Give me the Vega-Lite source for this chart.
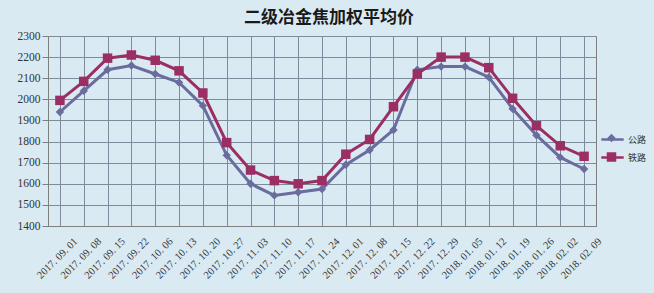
{
  "$schema": "https://vega.github.io/schema/vega-lite/v6.json",
  "width": 548,
  "height": 190,
  "autosize": {"type": "none"},
  "padding": {"left": 48, "top": 36, "right": 58, "bottom": 67},
  "background": "#d9eaf3",
  "title": {
    "text": "二级冶金焦加权平均价",
    "font": "Noto Sans CJK SC",
    "fontSize": 17,
    "fontWeight": "bold",
    "color": "#1a1a1a",
    "anchor": "middle",
    "offset": 3,
    "dx": 7
  },
  "data": {
    "values": [
      {"date": "2017. 09. 01", "type": "公路", "price": 1940},
      {"date": "2017. 09. 08", "type": "公路", "price": 2040},
      {"date": "2017. 09. 15", "type": "公路", "price": 2140},
      {"date": "2017. 09. 22", "type": "公路", "price": 2160},
      {"date": "2017. 10. 06", "type": "公路", "price": 2120},
      {"date": "2017. 10. 13", "type": "公路", "price": 2080},
      {"date": "2017. 10. 20", "type": "公路", "price": 1970},
      {"date": "2017. 10. 27", "type": "公路", "price": 1735},
      {"date": "2017. 11. 03", "type": "公路", "price": 1600},
      {"date": "2017. 11. 10", "type": "公路", "price": 1545},
      {"date": "2017. 11. 17", "type": "公路", "price": 1560},
      {"date": "2017. 11. 24", "type": "公路", "price": 1575},
      {"date": "2017. 12. 01", "type": "公路", "price": 1690},
      {"date": "2017. 12. 08", "type": "公路", "price": 1760},
      {"date": "2017. 12. 15", "type": "公路", "price": 1855},
      {"date": "2017. 12. 22", "type": "公路", "price": 2140},
      {"date": "2017. 12. 29", "type": "公路", "price": 2155},
      {"date": "2018. 01. 05", "type": "公路", "price": 2155},
      {"date": "2018. 01. 12", "type": "公路", "price": 2105},
      {"date": "2018. 01. 19", "type": "公路", "price": 1955},
      {"date": "2018. 01. 26", "type": "公路", "price": 1830},
      {"date": "2018. 02. 02", "type": "公路", "price": 1725},
      {"date": "2018. 02. 09", "type": "公路", "price": 1670},
      {"date": "2017. 09. 01", "type": "铁路", "price": 1995},
      {"date": "2017. 09. 08", "type": "铁路", "price": 2085},
      {"date": "2017. 09. 15", "type": "铁路", "price": 2195},
      {"date": "2017. 09. 22", "type": "铁路", "price": 2210},
      {"date": "2017. 10. 06", "type": "铁路", "price": 2185},
      {"date": "2017. 10. 13", "type": "铁路", "price": 2135},
      {"date": "2017. 10. 20", "type": "铁路", "price": 2030},
      {"date": "2017. 10. 27", "type": "铁路", "price": 1795},
      {"date": "2017. 11. 03", "type": "铁路", "price": 1665},
      {"date": "2017. 11. 10", "type": "铁路", "price": 1615},
      {"date": "2017. 11. 17", "type": "铁路", "price": 1600},
      {"date": "2017. 11. 24", "type": "铁路", "price": 1615},
      {"date": "2017. 12. 01", "type": "铁路", "price": 1740},
      {"date": "2017. 12. 08", "type": "铁路", "price": 1810},
      {"date": "2017. 12. 15", "type": "铁路", "price": 1965},
      {"date": "2017. 12. 22", "type": "铁路", "price": 2120},
      {"date": "2017. 12. 29", "type": "铁路", "price": 2200},
      {"date": "2018. 01. 05", "type": "铁路", "price": 2200},
      {"date": "2018. 01. 12", "type": "铁路", "price": 2150},
      {"date": "2018. 01. 19", "type": "铁路", "price": 2005},
      {"date": "2018. 01. 26", "type": "铁路", "price": 1875},
      {"date": "2018. 02. 02", "type": "铁路", "price": 1780},
      {"date": "2018. 02. 09", "type": "铁路", "price": 1730}
    ]
  },
  "encoding": {
    "x": {
      "field": "date",
      "type": "nominal",
      "sort": null,
      "scale": {"paddingInner": 0, "paddingOuter": 0},
      "axis": {
        "title": null,
        "bandPosition": 0,
        "labelOffset": 12,
        "labelAngle": -45,
        "labelFont": "Liberation Serif",
        "labelFontSize": 10.5,
        "labelColor": "#333333",
        "labelPadding": 10,
        "ticks": false,
        "grid": true,
        "gridColor": "#7d8c9c",
        "gridWidth": 1,
        "domainColor": "#7f7f7f"
      }
    },
    "y": {
      "field": "price",
      "type": "quantitative",
      "scale": {"domain": [1400, 2300], "nice": false, "zero": false},
      "axis": {
        "title": null,
        "format": "d",
        "values": [1400, 1500, 1600, 1700, 1800, 1900, 2000, 2100, 2200, 2300],
        "labelFont": "Liberation Serif",
        "labelFontSize": 11.5,
        "labelColor": "#333333",
        "labelPadding": 2,
        "tickSize": 6,
        "tickColor": "#7f7f7f",
        "grid": true,
        "gridColor": "#7d8c9c",
        "gridWidth": 1,
        "domainColor": "#7f7f7f"
      }
    }
  },
  "layer": [
    {
      "mark": {"type": "line", "strokeWidth": 3},
      "encoding": {
        "color": {
          "field": "type",
          "type": "nominal",
          "scale": {"range": ["#6a6c9e", "#9b2f63"]},
          "legend": {
            "title": null,
            "orient": "none",
            "legendX": 555,
            "legendY": 94,
            "labelFont": "Noto Sans CJK SC",
            "labelFontSize": 9,
            "labelColor": "#333333",
            "rowPadding": 3,
            "symbolType": "M-1.4,0H1.4",
            "symbolSize": 256,
            "symbolStrokeWidth": 2.5,
            "labelOffset": 6
          }
        }
      }
    },
    {
      "mark": {"type": "point", "filled": true, "opacity": 1},
      "encoding": {
        "fill": {
          "field": "type",
          "type": "nominal",
          "scale": {"domain": ["公路", "铁路"], "range": ["#6a6c9e", "#9b2f63"]},
          "legend": {
            "title": null,
            "orient": "none",
            "legendX": 558,
            "legendY": 97,
            "labelFontSize": 9,
            "labelExpr": "''",
            "rowPadding": 2.5,
            "labelOffset": 6
          }
        },
        "shape": {
          "field": "type",
          "type": "nominal",
          "scale": {"domain": ["公路", "铁路"], "range": ["diamond", "square"]}
        },
        "size": {
          "field": "type",
          "type": "nominal",
          "scale": {"domain": ["公路", "铁路"], "range": [70, 90]}
        }
      }
    }
  ],
  "config": {
    "view": {"stroke": "#7f7f7f", "strokeWidth": 1}
  }
}
